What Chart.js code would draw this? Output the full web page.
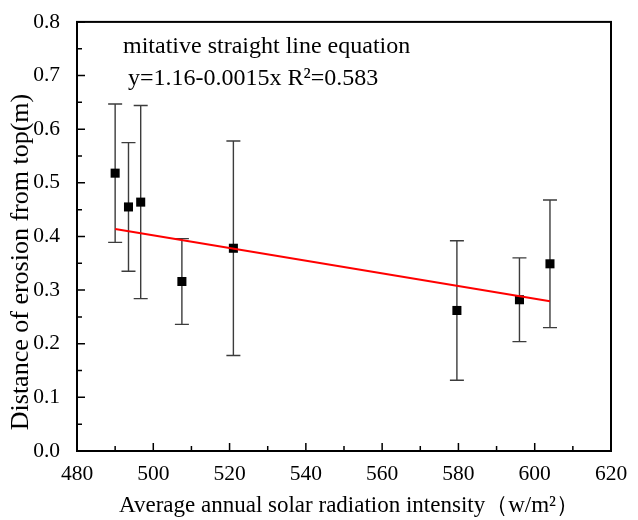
<!DOCTYPE html>
<html>
<head>
<meta charset="utf-8">
<script src="https://cdn.jsdelivr.net/npm/chart.js@4.4.1/dist/chart.umd.min.js"></script>
<style>
  body { margin: 0; background: #fff; }
  canvas { display: block; }
</style>
</head>
<body>
<canvas id="erosionChart" width="638" height="520"></canvas>
<script>
// Values
const radiation = [490, 493.5, 496.7, 507.5, 521, 579.6, 596, 604];
const erosion = [0.518, 0.455, 0.464, 0.316, 0.378, 0.262, 0.282, 0.349];
const erosionErr = [0.129, 0.12, 0.18, 0.08, 0.2, 0.13, 0.078, 0.119];

// Fitted line ends
const fitX = [490, 604];
const fitY = [0.414, 0.279];

const xTitle = 'Average annual solar radiation intensity\uFF08w/m\u00B2\uFF09';
const yTitle = 'Distance of erosion from top(m)';
const noteLines = ['mitative straight line equation', 'y=1.16-0.0015x R\u00B2=0.583'];

const serif = '"Liberation Serif", "Times New Roman", serif';

// Error bars under the markers
const errorBars = {
    id: 'errorBars',
    beforeDatasetsDraw(chart) {
        const { ctx, scales: { x, y } } = chart;
        ctx.save();
        ctx.strokeStyle = '#3c3c3c';
        ctx.lineWidth = 1.4;
        radiation.forEach((v, i) => {
            const px = x.getPixelForValue(v);
            const top = y.getPixelForValue(erosion[i] + erosionErr[i]);
            const bot = y.getPixelForValue(erosion[i] - erosionErr[i]);
            ctx.beginPath();
            ctx.moveTo(px, top);
            ctx.lineTo(px, bot);
            ctx.moveTo(px - 7, top);
            ctx.lineTo(px + 7, top);
            ctx.moveTo(px - 7, bot);
            ctx.lineTo(px + 7, bot);
            ctx.stroke();
        });
        ctx.restore();
    }
};

// Box, inward ticks, titles and the equation note
const frame = {
    id: 'frame',
    afterDraw(chart) {
        const { ctx, chartArea: a, scales: { x, y } } = chart;
        ctx.save();
        ctx.strokeStyle = '#000';
        ctx.lineWidth = 1.5;
        ctx.beginPath();
        x.ticks.forEach((t, i) => {
            const px = x.getPixelForValue(t.value);
            ctx.moveTo(px, a.bottom);
            ctx.lineTo(px, a.bottom - 8);
            if (i < x.ticks.length - 1) {
                const mx = x.getPixelForValue((t.value + x.ticks[i + 1].value) / 2);
                ctx.moveTo(mx, a.bottom);
                ctx.lineTo(mx, a.bottom - 5);
            }
        });
        y.ticks.forEach((t, i) => {
            const py = y.getPixelForValue(t.value);
            ctx.moveTo(a.left, py);
            ctx.lineTo(a.left + 8, py);
            if (i < y.ticks.length - 1) {
                const my = y.getPixelForValue((t.value + y.ticks[i + 1].value) / 2);
                ctx.moveTo(a.left, my);
                ctx.lineTo(a.left + 5, my);
            }
        });
        ctx.stroke();
        ctx.lineWidth = 2;
        ctx.strokeRect(a.left, a.top, a.right - a.left, a.bottom - a.top);

        ctx.fillStyle = '#000';
        ctx.font = '23px ' + serif;
        ctx.textAlign = 'center';
        ctx.textBaseline = 'alphabetic';
        ctx.fillText(xTitle, 349, 512);

        ctx.save();
        ctx.translate(28, 262);
        ctx.rotate(-Math.PI / 2);
        ctx.font = '26px ' + serif;
        ctx.fillText(yTitle, 0, 0);
        ctx.restore();

        ctx.textAlign = 'left';
        ctx.font = '24px ' + serif;
        ctx.fillText(noteLines[0], 123, 53);
        ctx.fillText(noteLines[1], 128, 85);
        ctx.restore();
    }
};

new Chart(document.getElementById('erosionChart'), {
    type: 'scatter',
    data: {
        datasets: [
            {
                label: 'Erosion',
                data: radiation.map((v, i) => ({ x: v, y: erosion[i] })),
                pointStyle: 'rect',
                pointRadius: 6.4,
                pointBackgroundColor: '#000',
                pointBorderWidth: 0,
                order: 1
            },
            {
                type: 'line',
                label: 'Fit',
                data: fitX.map((v, i) => ({ x: v, y: fitY[i] })),
                borderColor: '#ff0000',
                borderWidth: 2,
                pointRadius: 0,
                fill: false,
                order: 0
            }
        ]
    },
    options: {
        responsive: false,
        animation: false,
        devicePixelRatio: 1,
        layout: { padding: { top: 20, right: 27, left: 0, bottom: 0 } },
        plugins: {
            legend: { display: false },
            tooltip: { enabled: false }
        },
        scales: {
            x: {
                type: 'linear',
                min: 480,
                max: 620,
                afterFit(s) { s.height = 69; },
                grid: { display: false },
                border: { display: false },
                ticks: {
                    stepSize: 20,
                    padding: 2,
                    color: '#000',
                    font: { family: serif, size: 21.5 }
                }
            },
            y: {
                min: 0,
                max: 0.8,
                afterFit(s) { s.width = 77; },
                grid: { display: false },
                border: { display: false },
                ticks: {
                    stepSize: 0.1,
                    padding: 9,
                    color: '#000',
                    font: { family: serif, size: 21.5 },
                    callback: v => v.toFixed(1)
                }
            }
        }
    },
    plugins: [errorBars, frame]
});
</script>
</body>
</html>
